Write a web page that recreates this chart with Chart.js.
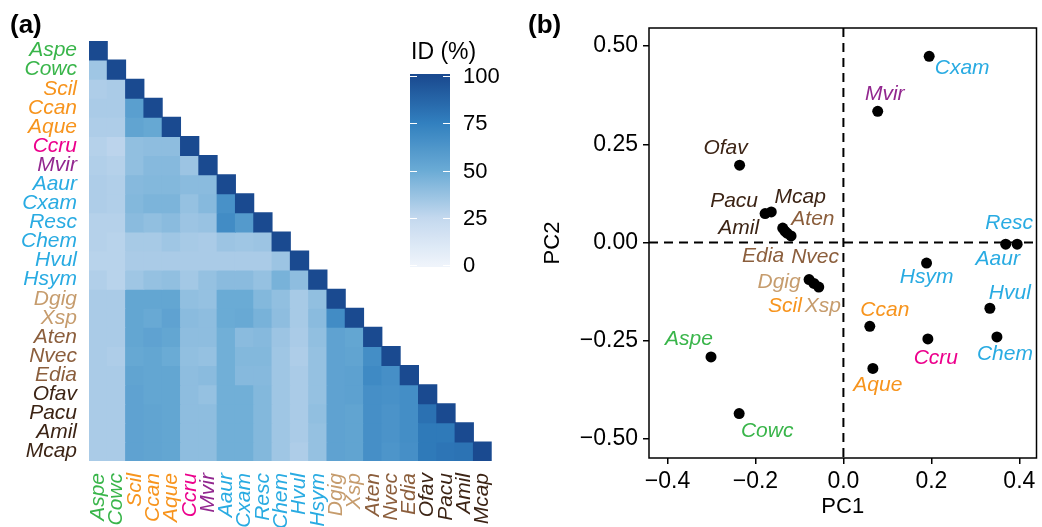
<!DOCTYPE html>
<html>
<head>
<meta charset="utf-8">
<script src="https://cdn.jsdelivr.net/npm/chart.js@4.4.1/dist/chart.umd.min.js"></script>
<style>
  html, body { margin: 0; padding: 0; background: #fff; overflow: hidden; }
  #heat { position: absolute; left: 0; top: 0; }
  #pca { position: absolute; left: 520px; top: 0; }
</style>
</head>
<body>
<canvas id="heat" width="520" height="560"></canvas>
<canvas id="pca" width="522" height="527"></canvas>
<script>
// ---------- data ----------
const species = ["Aspe", "Cowc", "Scil", "Ccan", "Aque", "Ccru", "Mvir", "Aaur", "Cxam", "Resc", "Chem",
  "Hvul", "Hsym", "Dgig", "Xsp", "Aten", "Nvec", "Edia", "Ofav", "Pacu", "Amil", "Mcap"];

const clade = ["green", "green", "orange", "orange", "orange", "magenta", "purple", "blue", "blue", "blue", "blue",
  "blue", "blue", "tan", "tan", "brown", "brown", "brown", "dark", "dark", "dark", "dark"];

// pairwise identity (%), lower triangle, row by row
const identity = [
  [100],
  [35, 100],
  [31, 32, 100],
  [32, 32, 57, 100],
  [31, 31, 54, 52, 100],
  [29, 27, 39, 40, 40, 100],
  [30, 29, 39, 42, 42, 36, 100],
  [31, 30, 42, 43, 43, 41, 41, 100],
  [31, 30, 43, 45, 45, 38, 42, 65, 100],
  [29, 29, 41, 39, 41, 36, 37, 68, 60, 100],
  [29, 28, 33, 33, 35, 33, 32, 36, 35, 36, 100],
  [28, 28, 32, 32, 32, 32, 32, 32, 32, 32, 36, 100],
  [30, 28, 35, 38, 39, 34, 38, 41, 41, 38, 46, 40, 100],
  [32, 32, 53, 53, 53, 39, 38, 50, 50, 43, 39, 33, 39, 100],
  [32, 32, 53, 51, 55, 41, 40, 50, 51, 46, 40, 33, 41, 68, 100],
  [32, 32, 53, 55, 53, 40, 40, 48, 41, 42, 36, 32, 39, 55, 53, 100],
  [32, 31, 52, 53, 50, 39, 38, 48, 43, 43, 35, 31, 38, 55, 54, 67, 100],
  [32, 32, 54, 53, 53, 40, 41, 48, 42, 42, 35, 32, 38, 55, 56, 69, 66, 100],
  [32, 32, 55, 53, 53, 40, 38, 48, 48, 43, 35, 32, 38, 55, 56, 66, 65, 67, 100],
  [32, 32, 55, 54, 53, 40, 40, 48, 48, 43, 35, 32, 39, 55, 54, 66, 64, 67, 82, 100],
  [32, 32, 55, 54, 53, 40, 40, 48, 48, 43, 35, 32, 38, 55, 54, 66, 64, 67, 78, 78, 100],
  [32, 32, 55, 54, 53, 40, 40, 48, 48, 43, 35, 31, 38, 55, 54, 66, 63, 66, 78, 80, 81, 100]
];

const legendTicks = [0, 25, 50, 75, 100];

// PCA coordinates, same order as species
const pc1 = [-0.301, -0.237, -0.067, 0.060, 0.067, 0.192, 0.078, 0.369, 0.195, 0.395, 0.349,
  0.333, 0.189, -0.078, -0.056, -0.133, -0.119, -0.128, -0.236, -0.178, -0.138, -0.164];
const pc2 = [-0.291, -0.435, -0.104, -0.213, -0.320, -0.245, 0.334, -0.004, 0.474, -0.004, -0.240,
  -0.167, -0.052, -0.094, -0.113, 0.029, 0.017, 0.024, 0.197, 0.074, 0.037, 0.078];

const pc1Ticks = [-0.4, -0.2, 0, 0.2, 0.4];
const pc2Ticks = [-0.5, -0.25, 0, 0.25, 0.5];

// ---------- style ----------
const FONT = '"Liberation Sans", Arial, Helvetica, sans-serif';
Chart.defaults.font.family = FONT;
Chart.defaults.color = "#000";

const cladeColor = {
  green: "#39b54a", orange: "#f7941d", magenta: "#ec008c", purple: "#92278f",
  blue: "#29abe2", tan: "#c69c6d", brown: "#8b5e3c", dark: "#3c2415"
};

// label offsets (px) for the PCA text labels
const labelShift = [[-22, -18], [28, 18], [-29, 23], [15, -16], [5, 17], [8, 19], [7, -17], [-8, 15],
  [33, 12], [-8, -21], [8, 17], [20, -15], [0, 14], [-30, 3], [4, 19], [28, -12], [24, 21], [-24, 23],
  [-14, -17], [-31, -12], [-44, 0], [29, -15]];

const blueStops = [
  [0, [239, 244, 251]],
  [25, [195, 216, 238]],
  [50, [106, 171, 213]],
  [75, [50, 128, 191]],
  [100, [26, 74, 144]]
];

function blues(v) {
  for (let k = 1; k < blueStops.length; k++) {
    const [v1, c1] = blueStops[k];
    const [v0, c0] = blueStops[k - 1];
    if (v <= v1) {
      const t = (v - v0) / (v1 - v0);
      const c = c0.map((a, n) => Math.round(a + (c1[n] - a) * t));
      return `rgb(${c[0]},${c[1]},${c[2]})`;
    }
  }
  return "rgb(26,74,144)";
}

const tickColor = (ctx) => cladeColor[clade[ctx.index]];

// ---------- (a) heatmap ----------
const heatSets = species.map((name, i) => ({
  label: name,
  data: species.map((_, j) => (j <= i ? [i - 0.5, i + 0.5] : null)),
  backgroundColor: species.map((_, j) => (j <= i ? blues(identity[i][j]) : "rgba(0,0,0,0)")),
  borderWidth: 0,
  inflateAmount: 0.5,
  barPercentage: 1,
  categoryPercentage: 1,
  grouped: false
}));

const colorbar = {
  id: "colorbar",
  afterDraw(chart) {
    const ctx = chart.ctx;
    const bx = 410, bw = 40, yZero = 265, yFull = 76;
    const toY = (v) => yZero - (v / 100) * (yZero - yFull);
    const grad = ctx.createLinearGradient(0, yZero, 0, yFull);
    for (let v = 0; v <= 100; v += 5) grad.addColorStop(v / 100, blues(v));
    ctx.save();
    ctx.fillStyle = grad;
    ctx.fillRect(bx, yFull - 2, bw, yZero - yFull + 4);
    ctx.strokeStyle = "#fff";
    ctx.lineWidth = 1;
    ctx.font = `22px ${FONT}`;
    ctx.fillStyle = "#000";
    ctx.textBaseline = "middle";
    legendTicks.forEach((v) => {
      const y = Math.round(toY(v)) + 0.5;
      ctx.beginPath();
      ctx.moveTo(bx, y); ctx.lineTo(bx + 7, y);
      ctx.moveTo(bx + bw - 7, y); ctx.lineTo(bx + bw, y);
      ctx.stroke();
      ctx.fillText(String(v), 463, toY(v) + 1);
    });
    ctx.font = `23px ${FONT}`;
    ctx.fillText("ID (%)", 411, 53);
    ctx.font = `bold 26px ${FONT}`;
    ctx.fillText("(a)", 10, 26);
    ctx.restore();
  }
};

new Chart(document.getElementById("heat"), {
  type: "bar",
  data: { labels: species, datasets: heatSets },
  options: {
    responsive: false,
    animation: false,
    events: [],
    layout: { padding: { left: 0, top: 41, right: 10, bottom: 0 } },
    plugins: { legend: { display: false }, tooltip: { enabled: false } },
    scales: {
      x: {
        type: "category",
        grid: { display: false, drawTicks: false },
        border: { display: false },
        ticks: {
          autoSkip: false, minRotation: 90, maxRotation: 90, padding: 12,
          color: tickColor, font: { size: 21, style: "italic" }
        },
        afterFit: (s) => { s.height = 99; }
      },
      y: {
        type: "linear",
        min: -0.5, max: 21.5, reverse: true,
        grid: { display: false, drawTicks: false },
        border: { display: false },
        afterBuildTicks: (s) => { s.ticks = species.map((_, i) => ({ value: i })); },
        ticks: {
          autoSkip: false, padding: 12,
          callback: (v) => species[v],
          color: tickColor, font: { size: 21, style: "italic" }
        },
        afterFit: (s) => { s.width = 89; }
      }
    }
  },
  plugins: [colorbar]
});

// ---------- (b) PCA ----------
const fmt = (v, d) => (v < 0 ? "\u2212" : "") + Math.abs(v).toFixed(d);

const pcaDecor = {
  id: "pcaDecor",
  beforeDatasetsDraw(chart) {
    const { ctx, chartArea: a, scales } = chart;
    const x0 = scales.x.getPixelForValue(0);
    const y0 = scales.y.getPixelForValue(0);
    ctx.save();
    ctx.strokeStyle = "#000";
    ctx.lineWidth = 2;
    ctx.setLineDash([9, 6]);
    ctx.beginPath();
    ctx.moveTo(x0, a.top); ctx.lineTo(x0, a.bottom);
    ctx.moveTo(a.left, y0); ctx.lineTo(a.right, y0);
    ctx.stroke();
    ctx.restore();
  },
  afterDatasetsDraw(chart) {
    const { ctx, chartArea: a } = chart;
    const pts = chart.getDatasetMeta(0).data;
    ctx.save();
    ctx.font = `italic 21px ${FONT}`;
    ctx.textAlign = "center";
    ctx.textBaseline = "middle";
    pts.forEach((p, i) => {
      ctx.fillStyle = cladeColor[clade[i]];
      ctx.fillText(species[i], p.x + labelShift[i][0], p.y + labelShift[i][1]);
    });
    ctx.strokeStyle = "#000";
    ctx.lineWidth = 1.5;
    ctx.strokeRect(a.left, a.top, a.right - a.left, a.bottom - a.top);
    ctx.fillStyle = "#000";
    ctx.textAlign = "left";
    ctx.font = `bold 26px ${FONT}`;
    ctx.fillText("(b)", 8, 26);
    ctx.restore();
  }
};

const axisGrid = { drawOnChartArea: false, drawTicks: true, tickLength: 6, color: "#000", lineWidth: 1.5 };

new Chart(document.getElementById("pca"), {
  type: "scatter",
  data: {
    datasets: [{
      data: species.map((_, i) => ({ x: pc1[i], y: pc2[i] })),
      pointRadius: 5.5,
      backgroundColor: "#000",
      borderWidth: 0
    }]
  },
  options: {
    responsive: false,
    animation: false,
    events: [],
    layout: { padding: { left: 0, top: 28, right: 1, bottom: 0 } },
    plugins: { legend: { display: false }, tooltip: { enabled: false } },
    scales: {
      x: {
        type: "linear", min: -0.442, max: 0.439,
        afterBuildTicks: (s) => { s.ticks = pc1Ticks.map((v) => ({ value: v })); },
        grid: axisGrid,
        border: { display: false },
        ticks: { padding: 4, font: { size: 23 }, callback: (v) => fmt(v, 1) },
        title: { display: true, text: "PC1", font: { size: 22 }, padding: { top: 0, bottom: 7 } },
        afterFit: (s) => { s.height = 69; }
      },
      y: {
        type: "linear", min: -0.548, max: 0.546,
        afterBuildTicks: (s) => { s.ticks = pc2Ticks.map((v) => ({ value: v })); },
        grid: axisGrid,
        border: { display: false },
        ticks: { padding: 5, font: { size: 23 }, callback: (v) => fmt(v, 2) },
        title: { display: true, text: "PC2", font: { size: 22 }, padding: { top: 20, bottom: 0 } },
        afterFit: (s) => { s.width = 129; }
      }
    }
  },
  plugins: [pcaDecor]
});
</script>
</body>
</html>
